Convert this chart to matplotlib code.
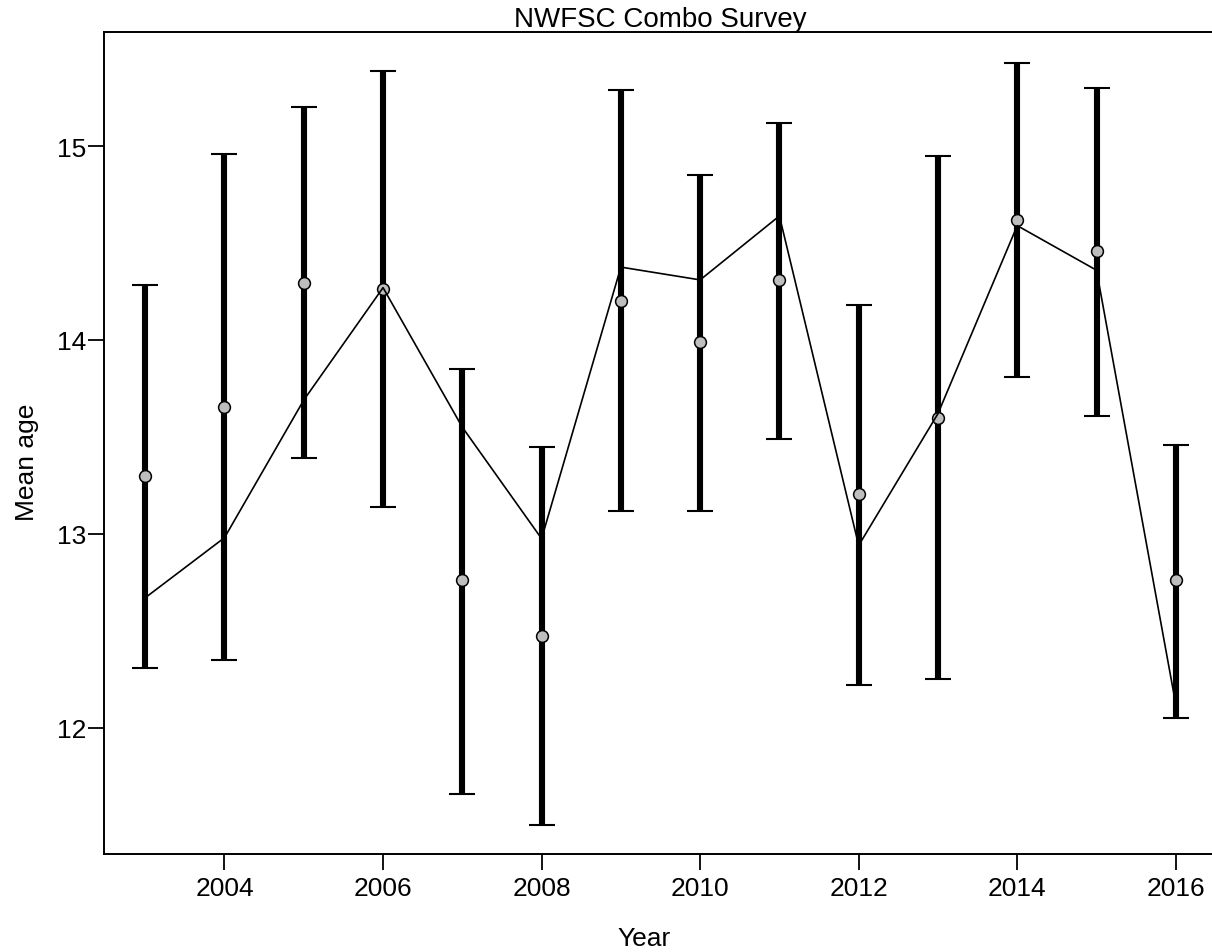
import numpy as np
import matplotlib.pyplot as plt

plt.rcParams['font.family'] = ['Liberation Sans', 'DejaVu Sans']

# Данні: середній вік по роках
years = [2003, 2004, 2005, 2006, 2007, 2008, 2009, 2010, 2011, 2012, 2013, 2014, 2015, 2016]
obs_age = [13.30, 13.655, 14.295, 14.265, 12.76, 12.475, 14.20, 13.99, 14.31, 13.205, 13.60, 14.62, 14.46, 12.76]
lower = [12.31, 12.35, 13.39, 13.14, 11.66, 11.50, 13.12, 13.12, 13.49, 12.22, 12.25, 13.81, 13.61, 12.05]
upper = [14.285, 14.957, 15.20, 15.39, 13.85, 13.45, 15.29, 14.85, 15.12, 14.18, 14.95, 15.43, 15.30, 13.46]
exp_age = [12.67, 12.98, 13.69, 14.27, 13.55, 12.975, 14.376, 14.31, 14.64, 12.94, 13.62, 14.59, 14.36, 12.12]

x_ticks = [2004, 2006, 2008, 2010, 2012, 2014, 2016]
y_ticks = [12, 13, 14, 15]

obs = np.array(obs_age)
yerr = [obs - np.array(lower), np.array(upper) - obs]

fig = plt.figure(figsize=(12.12, 9.53), dpi=100)
ax = fig.add_axes([104 / 1212, 1 - 855 / 953, 1113 / 1212, 822 / 953])

# Довірчі інтервали
ax.errorbar(years, obs, yerr=yerr, fmt='none', ecolor='black',
            elinewidth=4.4, capsize=9.4, capthick=1.5, zorder=2)

# Спостережені значення
ax.plot(years, obs, 'o', markersize=8.5, markerfacecolor='#BEBEBE',
        markeredgecolor='black', markeredgewidth=1.1, zorder=3)

# Очікувані значення
ax.plot(years, exp_age, color='black', linewidth=1.2, zorder=4)

ax.set_xlim(2002.48, 2016.52)
ax.set_ylim(11.348, 15.589)
ax.set_xticks(x_ticks)
ax.set_yticks(y_ticks)
ax.tick_params(labelsize=19, length=11.5, width=1.3)
ax.tick_params(axis='y', pad=1)
ax.tick_params(axis='x', pad=4)

for s in ax.spines.values():
    s.set_linewidth(1.4)

ax.set_title('NWFSC Combo Survey', fontsize=20, pad=3)
ax.set_xlabel('Year', fontsize=19)
ax.set_ylabel('Mean age', fontsize=19)
ax.xaxis.set_label_coords(0.485, -0.087)
ax.yaxis.set_label_coords(-0.058, 0.478)

fig.savefig('out.png', dpi=100)
